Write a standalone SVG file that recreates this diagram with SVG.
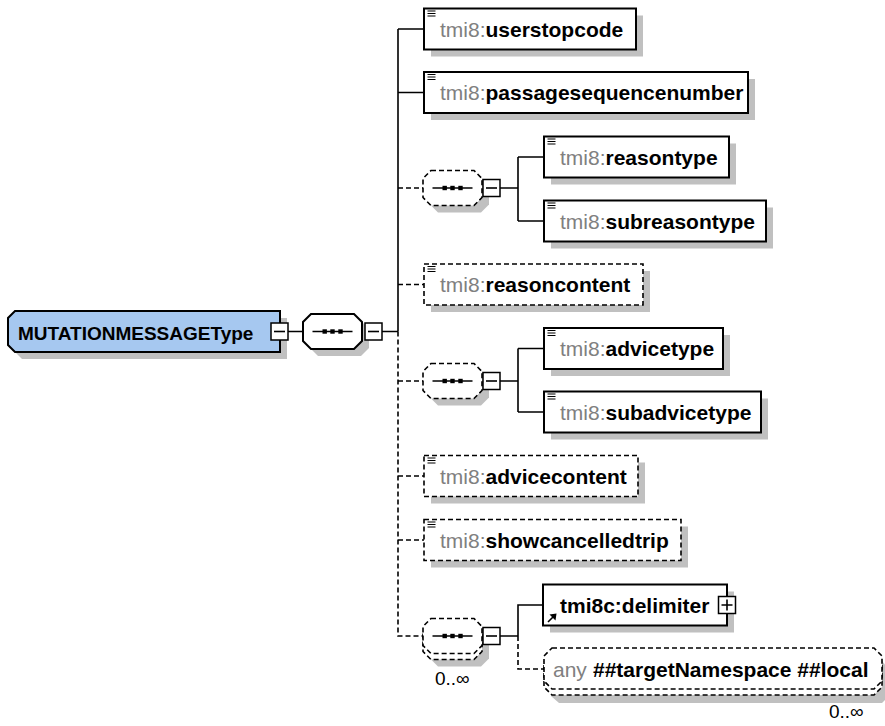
<svg xmlns="http://www.w3.org/2000/svg" width="885" height="726" viewBox="0 0 885 726">
<style>
text{font-family:"Liberation Sans",Arial,sans-serif}
.el{font-size:21px;font-weight:bold;fill:#000}
.ns{font-weight:normal;fill:#808080}
.root{font-size:19px;font-weight:bold;fill:#000}
.occ{font-size:19px;fill:#000}
.shadow{fill:#c0c0c0;stroke:none}
.box{fill:#fff;stroke:#000;stroke-width:2}
.dbox{fill:#fff;stroke:#000;stroke-width:1.6;stroke-dasharray:5,3}
.btn{fill:#fff;stroke:#000;stroke-width:1.5}
.ln{fill:none;stroke:#000;stroke-width:1.6}
.dl{fill:none;stroke:#000;stroke-width:1.6;stroke-dasharray:5,3}
.ico{fill:none;stroke:#000;stroke-width:1.2}
</style>
<defs>
<g id="simple"><path class="ico" d="M0,0.5H8M0,3H8M0,5.5H8"/></g>
<g id="minus"><rect class="btn" x="0" y="0" width="17" height="17"/><path class="ln" d="M3,8.5H14"/></g>
<g id="plus"><rect class="btn" x="0" y="0" width="17" height="17"/><path class="ln" d="M3,8.5H14M8.5,3V14"/></g>
<g id="seqsym"><path class="ln" d="M-20,0H20"/><rect x="-10" y="-2.2" width="4.4" height="4.4"/><rect x="-2.2" y="-2.2" width="4.4" height="4.4"/><rect x="5.8" y="-2.2" width="4.4" height="4.4"/></g>
</defs>

<g id="connectors">
<path class="ln" d="M288,331.5H303M382,331.5H398M398,29V331.5M398,29H424M398,92.5H424"/>
<path class="dl" d="M398,331.5V636H423M398,188H423M398,284.5H424M398,381H423M398,476H424M398,540H424"/>
<path class="ln" d="M500,188H518M518,157V221M518,157H544M518,221H544"/>
<path class="ln" d="M500,381H518M518,348.5V412M518,348.5H544M518,412H544"/>
<path class="ln" d="M500,636H518M518,636V605H543"/>
<path class="dl" d="M518,636V669H544"/>
</g>

<g id="root">
<polygon class="shadow" points="22,318 287,318 287,359 22,359 15,352 15,325"/>
<polygon points="15,311 280,311 280,352 15,352 8,345 8,318" fill="#a6c8f0" stroke="#000" stroke-width="2"/>
<text class="root" x="18" y="339.5">MUTATIONMESSAGEType</text>
<use href="#minus" x="271" y="323"/>
</g>

<g id="seq-main">
<polygon class="shadow" points="318,321 361,321 369,329 369,348 361,356 318,356 310,348 310,329"/>
<polygon class="box" stroke-width="1.6" points="311,314 354,314 362,322 362,341 354,349 311,349 303,341 303,322"/>
<use href="#seqsym" x="332.5" y="331.5"/>
<use href="#minus" x="365" y="323"/>
</g>

<g id="userstopcode">
<rect class="shadow" x="431" y="15.5" width="212" height="41"/>
<rect class="box" x="424" y="8.5" width="212" height="41"/>
<use href="#simple" x="427.5" y="10.5"/>
<text class="el" x="440" y="36.5"><tspan class="ns">tmi8:</tspan>userstopcode</text>
</g>

<g id="passagesequencenumber">
<rect class="shadow" x="431" y="79" width="324" height="41"/>
<rect class="box" x="424" y="72" width="324" height="41"/>
<use href="#simple" x="427.5" y="74"/>
<text class="el" x="440" y="100"><tspan class="ns">tmi8:</tspan>passagesequencenumber</text>
</g>

<g id="seq-reason">
<polygon class="shadow" points="438,177.5 481,177.5 489,185.5 489,204.5 481,212.5 438,212.5 430,204.5 430,185.5"/>
<polygon class="dbox" points="431,170.5 474,170.5 482,178.5 482,197.5 474,205.5 431,205.5 423,197.5 423,178.5"/>
<use href="#seqsym" x="452.5" y="188"/>
<use href="#minus" x="483" y="179.5"/>
</g>

<g id="reasontype">
<rect class="shadow" x="551" y="143.5" width="185" height="41"/>
<rect class="box" x="544" y="136.5" width="185" height="41"/>
<use href="#simple" x="547.5" y="138.5"/>
<text class="el" x="560" y="164.5"><tspan class="ns">tmi8:</tspan>reasontype</text>
</g>

<g id="subreasontype">
<rect class="shadow" x="551" y="207.5" width="222" height="41"/>
<rect class="box" x="544" y="200.5" width="222" height="41"/>
<use href="#simple" x="547.5" y="202.5"/>
<text class="el" x="560" y="228.5"><tspan class="ns">tmi8:</tspan>subreasontype</text>
</g>

<g id="reasoncontent">
<rect class="shadow" x="431" y="271" width="219" height="41"/>
<rect class="dbox" x="424" y="264" width="219" height="41"/>
<use href="#simple" x="427.5" y="266"/>
<text class="el" x="440" y="292"><tspan class="ns">tmi8:</tspan>reasoncontent</text>
</g>

<g id="seq-advice">
<polygon class="shadow" points="438,370.5 481,370.5 489,378.5 489,397.5 481,405.5 438,405.5 430,397.5 430,378.5"/>
<polygon class="dbox" points="431,363.5 474,363.5 482,371.5 482,390.5 474,398.5 431,398.5 423,390.5 423,371.5"/>
<use href="#seqsym" x="452.5" y="381"/>
<use href="#minus" x="483" y="372.5"/>
</g>

<g id="advicetype">
<rect class="shadow" x="551" y="335" width="179" height="41"/>
<rect class="box" x="544" y="328" width="179" height="41"/>
<use href="#simple" x="547.5" y="330"/>
<text class="el" x="560" y="356"><tspan class="ns">tmi8:</tspan>advicetype</text>
</g>

<g id="subadvicetype">
<rect class="shadow" x="551" y="398.5" width="217" height="41"/>
<rect class="box" x="544" y="391.5" width="217" height="41"/>
<use href="#simple" x="547.5" y="393.5"/>
<text class="el" x="560" y="419.5"><tspan class="ns">tmi8:</tspan>subadvicetype</text>
</g>

<g id="advicecontent">
<rect class="shadow" x="431" y="462.5" width="214" height="41"/>
<rect class="dbox" x="424" y="455.5" width="214" height="41"/>
<use href="#simple" x="427.5" y="457.5"/>
<text class="el" x="440" y="483.5"><tspan class="ns">tmi8:</tspan>advicecontent</text>
</g>

<g id="showcancelledtrip">
<rect class="shadow" x="431" y="526.5" width="257" height="41"/>
<rect class="dbox" x="424" y="519.5" width="257" height="41"/>
<use href="#simple" x="427.5" y="521.5"/>
<text class="el" x="440" y="547.5"><tspan class="ns">tmi8:</tspan>showcancelledtrip</text>
</g>

<g id="seq-delimiter">
<polygon class="shadow" points="438,631.5 481,631.5 489,639.5 489,658.5 481,666.5 438,666.5 430,658.5 430,639.5"/>
<polygon class="dbox" points="431,624.5 474,624.5 482,632.5 482,651.5 474,659.5 431,659.5 423,651.5 423,632.5"/>
<polygon class="dbox" points="431,618.5 474,618.5 482,626.5 482,645.5 474,653.5 431,653.5 423,645.5 423,626.5"/>
<use href="#seqsym" x="452.5" y="636"/>
<use href="#minus" x="483" y="627.5"/>
<text class="occ" x="435" y="685">0..∞</text>
</g>

<g id="delimiter">
<rect class="shadow" x="550" y="591.5" width="184" height="41"/>
<rect class="box" x="543" y="584.5" width="184" height="41"/>
<path class="ln" d="M548,622L553,617"/>
<polygon points="556.5,613.5 549.5,614.5 555.5,620.5"/>
<text class="el" x="560" y="612.5">tmi8c:delimiter</text>
<use href="#plus" x="718.5" y="596.5"/>
</g>

<g id="any">
<polygon class="shadow" points="559,661 882,661 889,669 889,696 882,703 559,703 551,696 551,669"/>
<polygon class="dbox" points="552,654 874,654 882,662 882,687 874,695 552,695 544,687 544,662"/>
<polygon class="dbox" points="552,648 874,648 882,656 882,681 874,689 552,689 544,681 544,656"/>
<text class="el" x="553" y="676.5"><tspan class="ns">any</tspan><tspan x="593">##targetNamespace ##local</tspan></text>
<text class="occ" x="829" y="718">0..∞</text>
</g>
</svg>
